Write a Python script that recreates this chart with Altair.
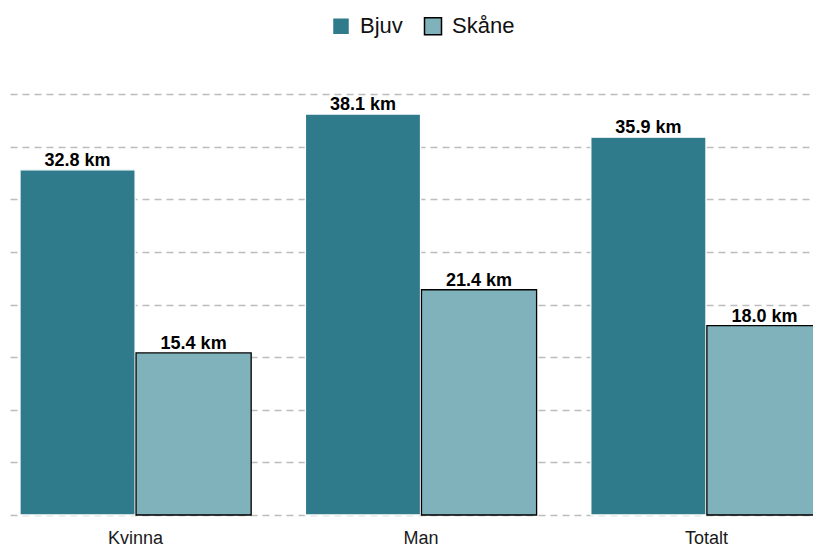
import altair as alt
import pandas as pd

categories = ["Kvinna", "Man", "Totalt"]
series = ["Bjuv", "Skåne"]
bjuv = [32.8, 38.1, 35.9]
skane = [15.4, 21.4, 18.0]
colors = ["#2f7b8c", "#7fb2bb"]
strokes = ["#ffffff", "#000000"]

rows = []
for c, b, s in zip(categories, bjuv, skane):
    rows.append({"cat": c, "serie": "Bjuv", "val": b, "label": f"{b:.1f} km"})
    rows.append({"cat": c, "serie": "Skåne", "val": s, "label": f"{s:.1f} km"})
df = pd.DataFrame(rows)

x = alt.X("cat:N", sort=categories, title=None,
          scale=alt.Scale(range=[0, 822], paddingInner=0.19, paddingOuter=0.035),
          axis=alt.Axis(labelAngle=0, domain=False, ticks=False, labelFontSize=18,
                        labelColor="#1a1a1a", labelPadding=14, labelFont="Liberation Sans"))
xo = alt.XOffset("serie:N", sort=series, scale=alt.Scale(paddingInner=0.008))
y = alt.Y("val:Q", title=None,
          scale=alt.Scale(domain=[0, 40], nice=False),
          axis=alt.Axis(values=[0, 5, 10, 15, 20, 25, 30, 35, 40], labels=False, ticks=False,
                        domain=False, grid=True, gridDash=[7, 5], gridColor="#bdbdbd",
                        gridWidth=1.5))

base = alt.Chart(df)
bars = base.mark_bar(strokeWidth=1.3).encode(
    x=x, xOffset=xo, y=y,
    color=alt.Color("serie:N", sort=series, title=None,
                    scale=alt.Scale(domain=series, range=colors),
                    legend=alt.Legend(orient="none", direction="horizontal", legendX=320,
                                      legendY=-79, symbolType="square", symbolSize=289,
                                      labelFontSize=22, labelFont="Liberation Sans",
                                      labelColor="#111", columnPadding=18, padding=0,
                                      labelOffset=8, symbolStrokeWidth=1.5)),
    stroke=alt.Stroke("serie:N", sort=series, title=None,
                      scale=alt.Scale(domain=series, range=strokes)),
)
text = base.mark_text(baseline="alphabetic", dy=-4, fontSize=18, fontWeight="bold",
                      font="Liberation Sans", color="#000").encode(
    x=x, xOffset=xo, y=y, text="label:N")

chart = (bars + text).properties(
    width=803, height=421,
    padding={"left": 2, "top": 86, "right": 0, "bottom": 32},
    autosize=alt.AutoSizeParams(type="none"),
).configure_view(stroke=None)

chart.save("out.html", embed_options={"renderer": "svg", "actions": False})
